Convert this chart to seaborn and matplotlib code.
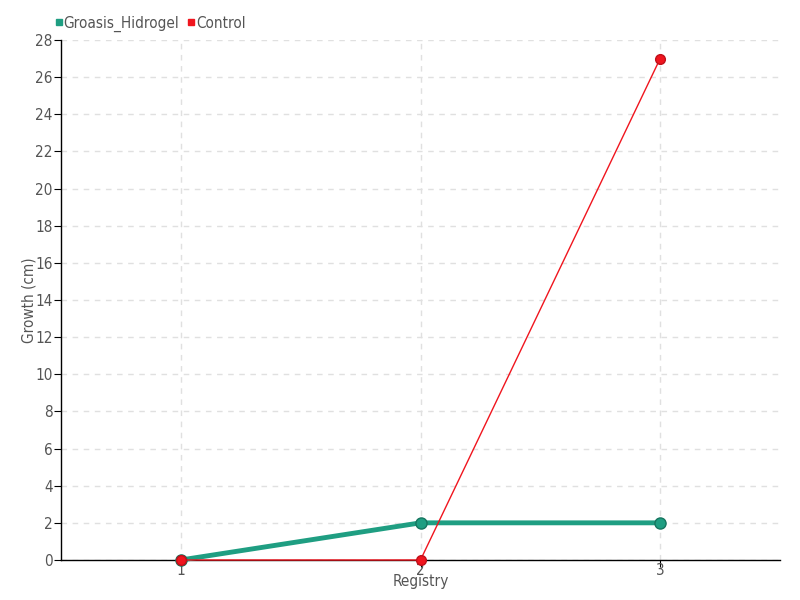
import matplotlib
matplotlib.use("Agg")
import matplotlib.pyplot as plt
import seaborn as sns
import pandas as pd
from matplotlib.lines import Line2D

registry = [1, 2, 3]
groasis_hidrogel = [0, 2, 2]
control = [0, 0, 27]
series_names = ["Groasis_Hidrogel", "Control"]
colors = {"Groasis_Hidrogel": "#1f9e82", "Control": "#f0151e"}
yticks = list(range(0, 29, 2))

df = pd.DataFrame({
    "Registry": registry * 2,
    "Growth": groasis_hidrogel + control,
    "Series": [series_names[0]] * 3 + [series_names[1]] * 3,
})

sns.set_style("white")
plt.rcParams['font.family'] = ['DejaVu Sans']
plt.rcParams['font.stretch'] = 'condensed'

fig = plt.figure(figsize=(8, 6), dpi=100)
ax = fig.add_axes([0.07625, 0.0667, 0.89875, 0.8667])

sns.lineplot(data=df[df.Series == "Groasis_Hidrogel"], x="Registry", y="Growth",
             color=colors["Groasis_Hidrogel"], lw=3.5, marker="o", markersize=8,
             markeredgecolor="#16755f", markeredgewidth=1, ax=ax, legend=False, zorder=3)
sns.lineplot(data=df[df.Series == "Control"], x="Registry", y="Growth",
             color=colors["Control"], lw=1, marker="o", markersize=7,
             markeredgecolor="#c0101a", markeredgewidth=1, ax=ax, legend=False, zorder=4)
for ln in ax.lines:
    ln.set_clip_on(False)

ax.set_xlim(0.5, 3.5)
ax.set_ylim(0, 28)
ax.set_xticks(registry)
ax.set_yticks(yticks)
ax.grid(True, linestyle=(0, (4, 4)), color="#e0e0e0", lw=1)
for s in ["top", "right"]:
    ax.spines[s].set_visible(False)
for s in ["left", "bottom"]:
    ax.spines[s].set_color("black")
    ax.spines[s].set_linewidth(1)
ax.tick_params(axis="both", length=5, color="black", labelsize=11, labelcolor="#555555", direction="out",
               bottom=True, left=True)
ax.tick_params(axis="x", pad=-3)
ax.tick_params(axis="y", pad=1)
ax.set_xlabel("Registry", fontsize=11, color="#555555", labelpad=-3)
ax.set_ylabel("Growth (cm)", fontsize=11, color="#555555", labelpad=-1)

handles = [Line2D([], [], marker="s", ls="", color=colors[n], markersize=4) for n in series_names]
fig.legend(handles, series_names, loc="upper left", bbox_to_anchor=(0.045, 0.997), ncol=2,
           frameon=False, fontsize=11, handletextpad=-0.3, columnspacing=0.2, handlelength=1.2,
           labelcolor="#555555")

fig.savefig("out.png", dpi=100)
